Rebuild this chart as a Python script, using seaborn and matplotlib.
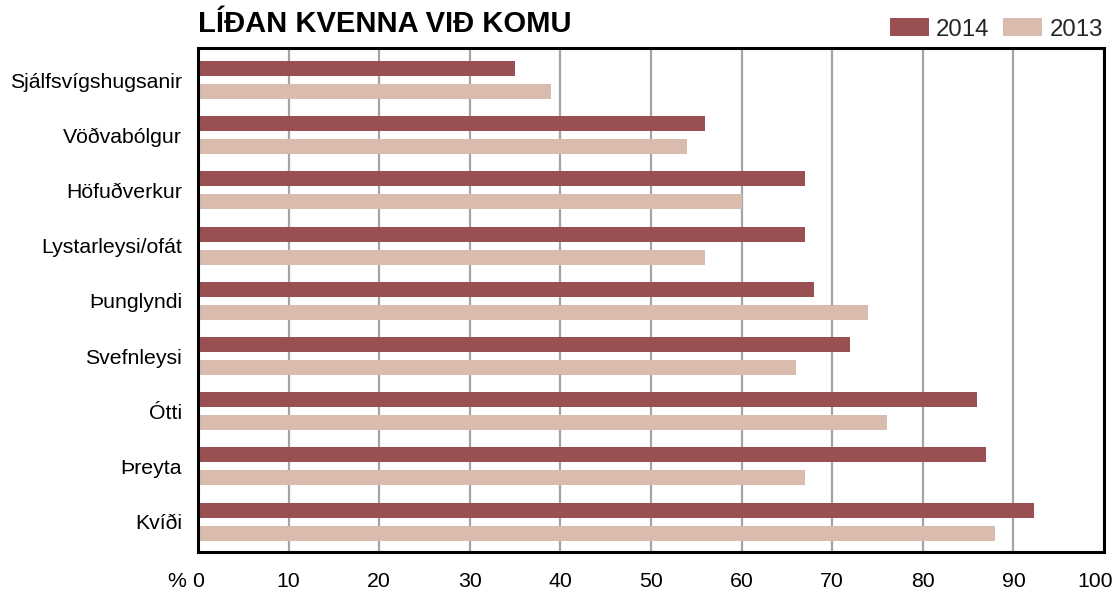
import numpy as np
import pandas as pd
import matplotlib.pyplot as plt
import seaborn as sns
from matplotlib.patches import Patch
from matplotlib.transforms import ScaledTranslation

CATEGORIES = ['Sjálfsvígshugsanir', 'Vöðvabólgur', 'Höfuðverkur', 'Lystarleysi/ofát',
              'Þunglyndi', 'Svefnleysi', 'Ótti', 'Þreyta', 'Kvíði']
VALUES_2014 = [35, 56, 67, 67, 68, 72, 86, 87, 92.3]
VALUES_2013 = [39, 54, 60, 56, 74, 66, 76, 67, 88]
YEARS = ['2014', '2013']
COLORS = ['#9a5053', '#dabcae']
X_TICKS = [0, 10, 20, 30, 40, 50, 60, 70, 80, 90, 100]

df = pd.DataFrame({
    'cat': CATEGORIES * 2,
    'val': VALUES_2014 + VALUES_2013,
    'year': [YEARS[0]] * len(CATEGORIES) + [YEARS[1]] * len(CATEGORIES),
})

sns.set_theme(style='white')
plt.rcParams['font.family'] = ['Liberation Sans', 'DejaVu Sans']

fig = plt.figure(figsize=(11.17, 5.92), dpi=100)
ax = fig.add_axes([0.1773, 0.0676, 0.8111, 0.8513])

sns.barplot(data=df, y='cat', x='val', hue='year', hue_order=YEARS,
            palette=COLORS, orient='h', width=0.834, gap=0.35,
            saturation=1, linewidth=0, edgecolor='none',
            legend=False, ax=ax, zorder=3)

ax.set_xlim(0, 100)
ax.set_ylim(8.55, -0.58)
ax.set_xticks(X_TICKS)
ax.set_xticklabels([str(t) for t in X_TICKS])
ax.xaxis.grid(True, color='#a3a3a8', linewidth=1.6, zorder=0)
ax.yaxis.grid(False)
ax.set_axisbelow(True)
ax.set_xlabel('')
ax.set_ylabel('')
ax.tick_params(axis='x', length=0, pad=14.5, labelsize=15.3, colors='black')
ax.tick_params(axis='y', length=0, pad=11.5, labelsize=15.3, colors='black')
for s in ax.spines.values():
    s.set_color('black')
    s.set_linewidth(2.2)
    s.set_zorder(6)

# last tick label sits a bit left so it stays inside the figure
last = ax.get_xticklabels()[-1]
last.set_transform(last.get_transform() + ScaledTranslation(-9 / 100, 0, fig.dpi_scale_trans))

# "%" sign just left of the 0 tick label
fig.canvas.draw()
bb = ax.get_xticklabels()[0].get_window_extent()
fig.text((bb.x0 - 6) / fig.bbox.width, (bb.y0 + bb.y1) / 2 / fig.bbox.height, '%',
         ha='right', va='center', fontsize=15.3, color='black')

fig.text(0.1773, 0.9595, 'LÍÐAN KVENNA VIÐ KOMU', ha='left', va='center',
         fontsize=21, fontweight='bold', color='black')

handles = [Patch(facecolor=c, edgecolor='none') for c in COLORS]
fig.legend(handles, YEARS, loc='upper right', bbox_to_anchor=(0.999, 0.9916),
           ncol=2, frameon=False, fontsize=17.3, handlelength=1.62, handleheight=0.79,
           handletextpad=0.29, columnspacing=0.58, borderaxespad=0.25,
           borderpad=0.3)

fig.savefig('out.png', dpi=100)
